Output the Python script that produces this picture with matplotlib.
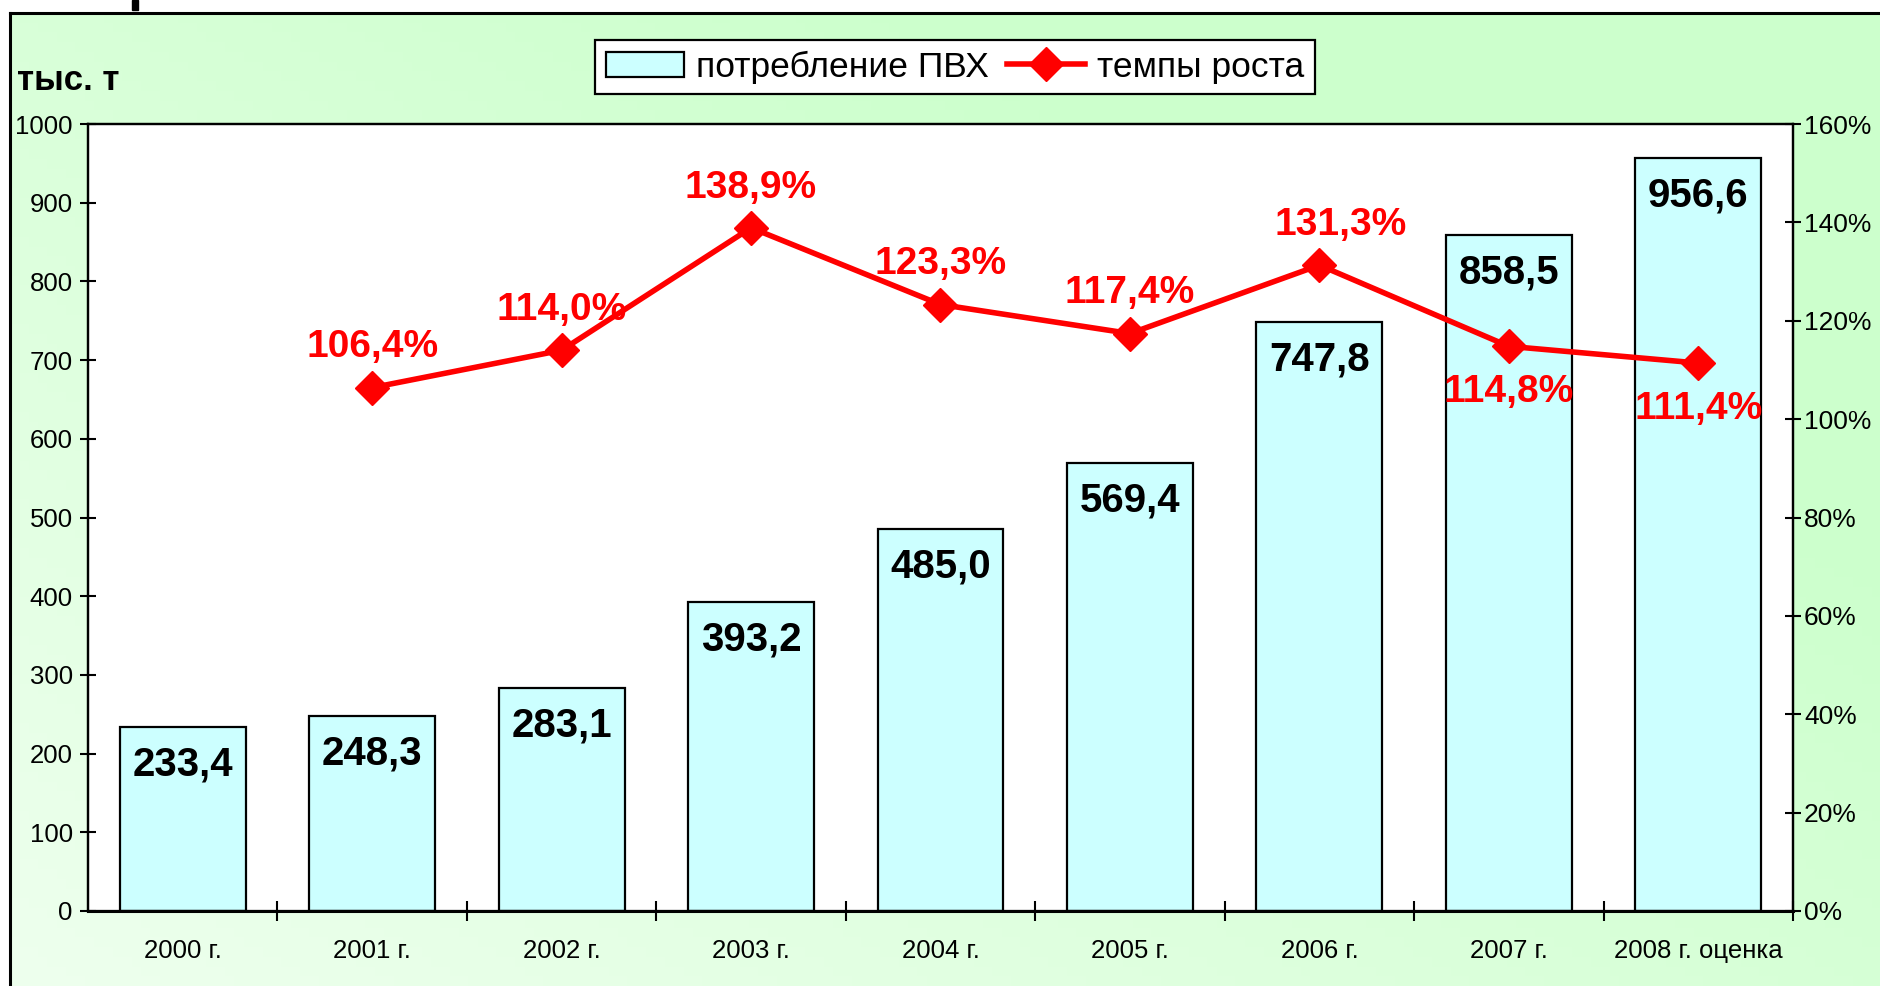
import numpy as np
import matplotlib
matplotlib.use("Agg")
import matplotlib.pyplot as plt
from matplotlib.patches import Rectangle
from matplotlib.ticker import FuncFormatter, FixedLocator

plt.rcParams['font.family'] = ['Liberation Sans', 'DejaVu Sans']

categories = ["2000 г.", "2001 г.", "2002 г.", "2003 г.", "2004 г.", "2005 г.",
              "2006 г.", "2007 г.", "2008 г. оценка"]
consumption = [233.4, 248.3, 283.1, 393.2, 485.0, 569.4, 747.8, 858.5, 956.6]
growth = [None, 106.4, 114.0, 138.9, 123.3, 117.4, 131.3, 114.8, 111.4]
growth_label_below = [False, False, False, False, False, False, False, True, True]

W, H = 1881, 986
fig = plt.figure(figsize=(W / 100, H / 100), dpi=100)

# background gradient
bg = fig.add_axes([0, 0, 1, 1], zorder=-10)
nx, ny = 200, 100
xx, yy = np.meshgrid(np.linspace(0, 1, nx), np.linspace(1, 0, ny))
t = np.clip(0.3 + 0.5 * xx + 0.45 * yy, 0, 1)
c0 = np.array([0.99, 1.0, 0.99])
c1 = np.array([0.80, 1.0, 0.80])
img = c0[None, None, :] * (1 - t[..., None]) + c1[None, None, :] * t[..., None]
x0 = 10 / W
y1 = 1 - 13 / H
bg.imshow(img, extent=[x0, 1, 0, y1], aspect='auto', origin='upper')
bg.set_xlim(0, 1)
bg.set_ylim(0, 1)
bg.plot([x0, x0], [0, y1], color='black', lw=2.2)
bg.plot([x0, 1], [y1, y1], color='black', lw=2.2)
bg.axis('off')
fig.patches.append(Rectangle((132 / W, 1 - 10 / H), 6 / W, 10 / H,
                             transform=fig.transFigure, color='black'))

ax = fig.add_axes([88 / W, 1 - 911 / H, (1793 - 88) / W, (911 - 124) / H])
ax.set_facecolor('white')
x = np.arange(len(categories))
bars = ax.bar(x, consumption, width=0.665, color='#CCFFFF', edgecolor='black',
              linewidth=1.6, label='потребление ПВХ', zorder=2)
ax.set_xlim(-0.5, len(categories) - 0.5)
ax.set_ylim(0, 1000)
ax.set_yticks(np.arange(0, 1001, 100))
ax.xaxis.set_major_locator(FixedLocator(np.arange(0.5, len(categories), 1.0)))
ax.xaxis.set_minor_locator(FixedLocator(x))
ax.set_xticklabels([], minor=False)
ax.set_xticklabels(categories, minor=True)
ax.tick_params(axis='x', which='major', direction='inout', length=14, width=1.5)
ax.tick_params(axis='x', which='minor', length=0, pad=20, labelsize=18.5)
ax.tick_params(axis='y', direction='inout', length=12, width=1.5, labelsize=18.5, pad=5)
for s in ax.spines.values():
    s.set_linewidth(1.6)
    s.set_color('black')
ax.spines['bottom'].set_linewidth(2.2)

for xi, v in zip(x, consumption):
    ax.annotate(f"{v:.1f}".replace('.', ','), (xi, v), xytext=(0, -27),
                textcoords='offset points', ha='center', va='center',
                fontsize=29, fontweight='bold', color='black', zorder=3)

ax2 = ax.twinx()
ax2.set_ylim(0, 1.6)
ax2.set_yticks(np.arange(0, 1.61, 0.2))
ax2.yaxis.set_major_formatter(FuncFormatter(lambda v, p: f"{v*100:.0f}%"))
ax2.tick_params(axis='y', direction='inout', length=12, width=1.5, labelsize=19, pad=2)
for s in ax2.spines.values():
    s.set_linewidth(1.6)
gx = [xi for xi, g in zip(x, growth) if g is not None]
gy = [g / 100 for g in growth if g is not None]
gb = [b for b, g in zip(growth_label_below, growth) if g is not None]
line, = ax2.plot(gx, gy, color='#FF0000', lw=4, marker='D', markersize=17,
                 label='темпы роста', zorder=4)
x_shift = {6: 15}
for xi, v, below in zip(gx, gy, gb):
    off = -33 if below else 29
    ax2.annotate(f"{v*100:.1f}%".replace('.', ','), (xi, v),
                 xytext=(x_shift.get(xi, 0), off),
                 textcoords='offset points', ha='center', va='center',
                 fontsize=28, fontweight='bold', color='#FF0000', zorder=5)

fig.text(17 / W, 1 - 80 / H, "тыс. т", fontsize=25, fontweight='bold',
         ha='left', va='center')

leg = fig.legend(handles=[bars, line], loc='center',
                 bbox_to_anchor=(955 / W, 1 - 67 / H), ncol=2, fontsize=25.5,
                 frameon=True, fancybox=False, edgecolor='black',
                 handlelength=2.2, handletextpad=0.35, columnspacing=0.5,
                 borderpad=0.3)
leg.get_frame().set_linewidth(1.6)
leg.get_frame().set_facecolor('white')
leg.get_frame().set_alpha(1)

fig.savefig('out.png', dpi=100)
